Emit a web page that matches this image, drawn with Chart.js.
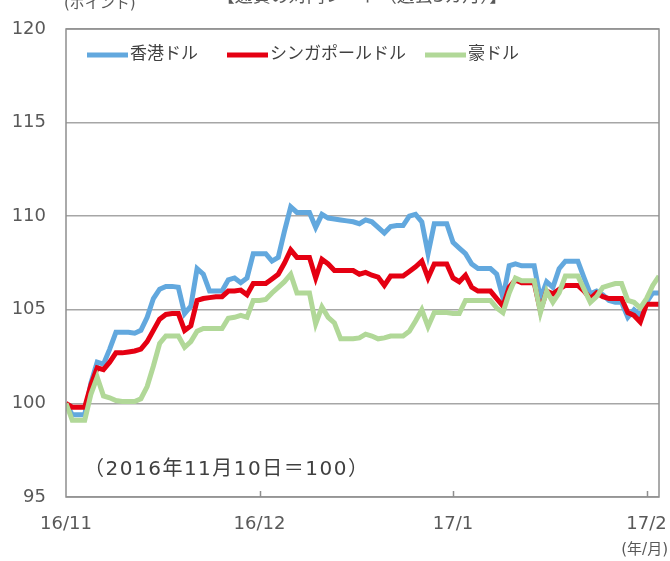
<!DOCTYPE html>
<html>
<head>
<meta charset="utf-8">
<script src="https://cdn.jsdelivr.net/npm/chart.js@4/dist/chart.umd.min.js"></script>
<style>
  html, body { margin: 0; padding: 0; background: #fff; }
  #wrap { width: 670px; height: 561px; }
</style>
</head>
<body>
<div id="wrap"><canvas id="c"></canvas></div>
<script>
// daily index, 2016/11/10 = 100
const monthLabels = ['16/11', '16/12', '17/1', '17/2'];
const monthTickIdx = [0, 31, 62, 93];

const hkd = [100, 99.4, 99.4, 99.4, 101.1, 102.2, 102.1, 102.9, 103.8, 103.8,
  103.8, 103.75, 103.9, 104.6, 105.6, 106.1, 106.25, 106.25, 106.2, 104.8,
  105.2, 107.2, 106.9, 106.0, 106.0, 106.0, 106.6, 106.7, 106.45, 106.7,
  108.0, 108.0, 108.0, 107.6, 107.8, 109.2, 110.5, 110.2, 110.2, 110.2,
  109.4, 110.1, 109.9, 109.85, 109.8, 109.75, 109.7, 109.6, 109.8, 109.7,
  109.4, 109.1, 109.45, 109.5, 109.5, 110.0, 110.1, 109.7, 108.0, 109.6,
  109.6, 109.6, 108.6, 108.3, 108.0, 107.45, 107.2, 107.2, 107.2, 106.9,
  105.65, 107.35, 107.45, 107.35, 107.35, 107.35, 105.6, 106.5, 106.2, 107.2,
  107.6, 107.6, 107.6, 106.7, 105.85, 106.0, 105.8, 105.5, 105.4, 105.4,
  104.6, 105.0, 104.7, 105.4, 105.9, 105.9];

const sgd = [100, 99.8, 99.8, 99.8, 101.0, 101.9, 101.8, 102.2, 102.7, 102.7,
  102.75, 102.8, 102.9, 103.3, 103.9, 104.5, 104.75, 104.8, 104.8, 103.9,
  104.15, 105.5, 105.6, 105.65, 105.7, 105.7, 106.0, 106.0, 106.05, 105.8,
  106.4, 106.4, 106.4, 106.65, 106.9, 107.5, 108.2, 107.8, 107.8, 107.8,
  106.7, 107.7, 107.45, 107.1, 107.1, 107.1, 107.1, 106.9, 107.0, 106.85,
  106.75, 106.3, 106.8, 106.8, 106.8, 107.05, 107.3, 107.6, 106.7, 107.45,
  107.45, 107.45, 106.7, 106.5, 106.85, 106.2, 106.0, 106.0, 106.0, 105.6,
  105.2, 106.2, 106.6, 106.45, 106.45, 106.45, 104.95, 106.0, 105.85, 106.1,
  106.3, 106.3, 106.3, 106.0, 105.6, 105.9, 105.7, 105.6, 105.6, 105.6,
  104.85, 104.7, 104.35, 105.3, 105.3, 105.3];

const aud = [100, 99.1, 99.1, 99.1, 100.5, 101.4, 100.4, 100.3, 100.15, 100.1,
  100.1, 100.1, 100.25, 100.9, 102.0, 103.2, 103.6, 103.6, 103.6, 103.0,
  103.3, 103.85, 104.0, 104.0, 104.0, 104.0, 104.55, 104.6, 104.7, 104.6,
  105.5, 105.5, 105.55, 105.9, 106.2, 106.5, 106.9, 105.9, 105.9, 105.9,
  104.25, 105.15, 104.6, 104.3, 103.45, 103.45, 103.45, 103.5, 103.7, 103.6,
  103.45, 103.5, 103.6, 103.6, 103.6, 103.85, 104.4, 105.0, 104.1, 104.85,
  104.85, 104.85, 104.8, 104.8, 105.5, 105.5, 105.5, 105.5, 105.5, 105.1,
  104.85, 105.9, 106.7, 106.55, 106.55, 106.55, 104.85, 106.0, 105.4, 105.9,
  106.8, 106.8, 106.8, 106.1, 105.4, 105.7, 106.2, 106.3, 106.4, 106.4,
  105.5, 105.4, 105.1, 105.6, 106.3, 106.8];

const seriesNames = ['香港ドル', 'シンガポールドル', '豪ドル'];
const seriesColors = ['#62A8DE', '#E50012', '#B1D898'];

const FONT = '"DejaVu Sans", "Noto Sans CJK JP", sans-serif';
const toXY = arr => arr.map((v, i) => ({ x: i, y: v }));

// extra drawing: frame, inner ticks, legend, notes
const decor = {
  id: 'decor',
  afterDatasetsDraw(chart) {
    const { ctx, chartArea: a, scales } = chart;
    ctx.save();
    // frame
    ctx.strokeStyle = '#8f8f8f';
    ctx.lineWidth = 1.5;
    ctx.strokeRect(a.left, a.top, a.right - a.left, a.bottom - a.top);
    // inner x tick marks
    monthTickIdx.slice(1).forEach(i => {
      const x = Math.round(scales.x.getPixelForValue(i)) + 0.5;
      ctx.beginPath();
      ctx.moveTo(x, a.bottom);
      ctx.lineTo(x, a.bottom - 6);
      ctx.stroke();
    });
    // legend
    ctx.font = '17px ' + FONT;
    ctx.textBaseline = 'middle';
    ctx.fillStyle = '#404040';
    const lx = [87, 227, 425];
    seriesNames.forEach((n, k) => {
      ctx.strokeStyle = seriesColors[k];
      ctx.lineWidth = 5;
      ctx.beginPath();
      ctx.moveTo(lx[k], 55);
      ctx.lineTo(lx[k] + 41, 55);
      ctx.stroke();
      ctx.fillText(n, lx[k] + 43, 55);
    });
    // base note
    ctx.font = '20px ' + FONT;
    ctx.letterSpacing = '1.5px';
    ctx.fillText('（2016年11月10日＝100）', 84, 470);
    ctx.letterSpacing = '0px';
    // title (cut at top) and units
    ctx.fillStyle = '#595959';
    ctx.font = '18px ' + FONT;
    ctx.textAlign = 'center';
    ctx.fillText('【通貨の対円レート（過去3カ月）】', 362, -3);
    ctx.font = '15px ' + FONT;
    ctx.textAlign = 'left';
    ctx.fillText('(ポイント)', 64, 4);
    ctx.textAlign = 'right';
    ctx.fillText('(年/月)', 668, 550);
    ctx.restore();
  }
};

new Chart(document.getElementById('c'), {
  type: 'line',
  data: {
    datasets: [hkd, sgd, aud].map((d, k) => ({
      label: seriesNames[k],
      data: toXY(d),
      borderColor: seriesColors[k],
      backgroundColor: seriesColors[k],
      borderWidth: 5,
      pointRadius: 0,
      tension: 0,
      order: 3 - k
    }))
  },
  options: {
    responsive: true,
    maintainAspectRatio: false,
    animation: false,
    layout: { padding: { top: 29, right: 11, left: 0, bottom: 0 } },
    plugins: { legend: { display: false }, tooltip: { enabled: false } },
    scales: {
      x: {
        type: 'linear',
        min: 0,
        max: 95,
        afterFit: s => { s.height = 64; s.paddingLeft = 0; s.paddingRight = 0; },
        afterBuildTicks: s => { s.ticks = monthTickIdx.map(v => ({ value: v })); },
        grid: { display: false, drawTicks: false },
        border: { display: false },
        ticks: {
          autoSkip: false,
          maxRotation: 0,
          padding: 17,
          color: '#595959',
          font: { family: FONT, size: 18 },
          callback: (v) => monthLabels[monthTickIdx.indexOf(v)]
        }
      },
      y: {
        min: 95,
        max: 120,
        afterFit: s => { s.width = 66; s.paddingTop = 0; s.paddingBottom = 0; },
        grid: { color: '#a6a6a6', lineWidth: 1.5, drawTicks: false },
        border: { display: false },
        ticks: {
          stepSize: 5,
          padding: 20,
          color: '#595959',
          font: { family: FONT, size: 18 }
        }
      }
    }
  },
  plugins: [decor]
});
</script>
</body>
</html>
